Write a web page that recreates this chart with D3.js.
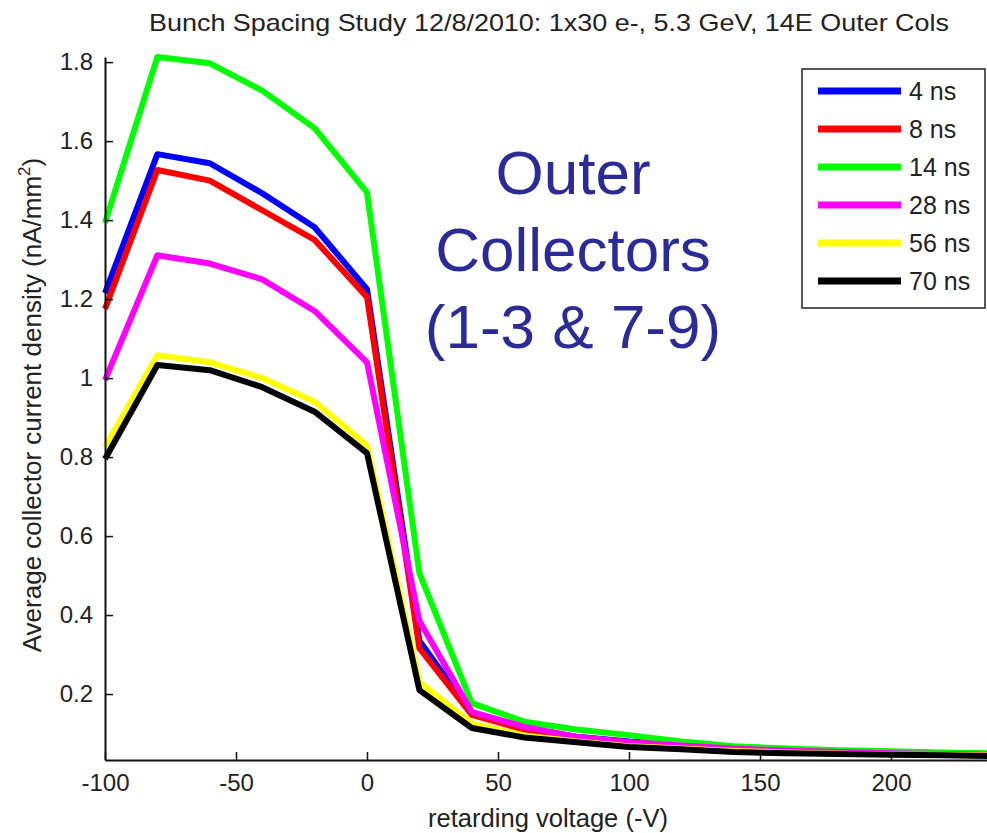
<!DOCTYPE html>
<html lang="en">
<head>
    <meta charset="UTF-8">
    <title>Bunch Spacing Study</title>
    <script src="https://d3js.org/d3.v7.min.js"></script>
    <style>
        body {
            margin: 0;
            background: #fff;
            font-family: "Liberation Sans", Arial, sans-serif;
        }
        svg text {
            fill: #222;
        }
    </style>
</head>
<body>
    <svg id="chart" width="987" height="833"></svg>
    <script>
        // retarding voltage (-V), one point every 20 V
        const voltages = [-100, -80, -60, -40, -20, 0, 20, 40, 60, 80, 100, 120, 140, 160, 180, 200, 220, 240];

        const seriesNames = ["4 ns", "8 ns", "14 ns", "28 ns", "56 ns", "70 ns"];
        const seriesColors = ["#0000ff", "#ff0000", "#00ff00", "#ff00ff", "#ffff00", "#000000"];

        // average collector current density (nA/mm^2)
        const ns4  = [1.215, 1.567, 1.544, 1.468, 1.382, 1.225, 0.335, 0.150, 0.112, 0.092, 0.080, 0.072, 0.063, 0.058, 0.054, 0.051, 0.049, 0.047];
        const ns8  = [1.175, 1.527, 1.500, 1.425, 1.350, 1.205, 0.316, 0.147, 0.110, 0.090, 0.078, 0.070, 0.062, 0.057, 0.053, 0.050, 0.048, 0.046];
        const ns14 = [1.393, 1.813, 1.797, 1.728, 1.633, 1.470, 0.506, 0.177, 0.130, 0.110, 0.096, 0.080, 0.068, 0.062, 0.058, 0.055, 0.052, 0.050];
        const ns28 = [0.995, 1.311, 1.290, 1.250, 1.170, 1.040, 0.385, 0.155, 0.117, 0.092, 0.078, 0.070, 0.062, 0.057, 0.053, 0.050, 0.048, 0.046];
        const ns56 = [0.825, 1.058, 1.040, 1.000, 0.940, 0.830, 0.230, 0.125, 0.095, 0.080, 0.068, 0.062, 0.056, 0.052, 0.049, 0.047, 0.046, 0.044];
        const ns70 = [0.795, 1.033, 1.020, 0.977, 0.915, 0.810, 0.210, 0.114, 0.090, 0.078, 0.066, 0.060, 0.053, 0.050, 0.048, 0.046, 0.045, 0.043];
        const seriesValues = [ns4, ns8, ns14, ns28, ns56, ns70];

        const xTicks = [-100, -50, 0, 50, 100, 150, 200];
        const yTicks = [0.2, 0.4, 0.6, 0.8, 1, 1.2, 1.4, 1.6, 1.8];

        const titleText = "Bunch Spacing Study 12/8/2010: 1x30 e-, 5.3 GeV, 14E Outer Cols";
        const noteLines = ["Outer", "Collectors", "(1-3 & 7-9)"];

        const svg = d3.select("#chart");

        const x = d3.scaleLinear().domain([-100, 250]).range([105, 1022]);
        const y = d3.scaleLinear().domain([0.033, 1.813]).range([760, 57]);

        svg.append("clipPath").attr("id", "plot-clip")
            .append("rect").attr("x", 0).attr("y", 0).attr("width", 987).attr("height", 760);

        // lines
        const line = d3.line()
            .x((d, i) => x(voltages[i]))
            .y(d => y(d));

        svg.append("g")
            .attr("clip-path", "url(#plot-clip)")
            .selectAll("path")
            .data(seriesValues)
            .enter()
            .append("path")
            .attr("d", d => line(d))
            .attr("fill", "none")
            .attr("stroke", (d, i) => seriesColors[i])
            .attr("stroke-width", 6)
            .attr("stroke-linejoin", "round");

        // axes (matlab style: ticks inside, plain hyphen for minus)
        const xAxis = d3.axisBottom(x)
            .tickValues(xTicks)
            .tickFormat(d => String(d))
            .tickSizeInner(-8)
            .tickSizeOuter(0)
            .tickPadding(14);
        const gx = svg.append("g")
            .attr("transform", `translate(0,${y.range()[0]})`)
            .call(xAxis);

        const yAxis = d3.axisLeft(y)
            .tickValues(yTicks)
            .tickFormat(d => String(d))
            .tickSizeInner(-8)
            .tickSizeOuter(0)
            .tickPadding(12);
        const gy = svg.append("g")
            .attr("transform", `translate(${x.range()[0]},0)`)
            .call(yAxis);

        [gx, gy].forEach(g => {
            g.select(".domain").attr("stroke", "#111").attr("stroke-width", 2);
            g.selectAll(".tick line").attr("stroke", "#111").attr("stroke-width", 1.5);
            g.selectAll(".tick text")
                .attr("font-family", "'Liberation Sans', Arial, sans-serif")
                .attr("font-size", 24)
                .attr("fill", "#222");
        });

        // title and labels
        svg.append("text")
            .attr("x", 549)
            .attr("y", 31)
            .attr("text-anchor", "middle")
            .attr("font-size", 24)
            .attr("textLength", 800)
            .attr("lengthAdjust", "spacingAndGlyphs")
            .text(titleText);

        svg.append("text")
            .attr("x", 548)
            .attr("y", 827)
            .attr("text-anchor", "middle")
            .attr("font-size", 25)
            .attr("textLength", 240)
            .attr("lengthAdjust", "spacingAndGlyphs")
            .text("retarding voltage (-V)");

        const ylab = svg.append("text")
            .attr("transform", "translate(41,405) rotate(-90)")
            .attr("text-anchor", "middle")
            .attr("font-size", 26);
        ylab.append("tspan").text("Average collector current density (nA/mm");
        ylab.append("tspan").attr("font-size", 17).attr("dy", -11).text("2");
        ylab.append("tspan").attr("dy", 11).text(")");

        // big annotation
        svg.append("g")
            .selectAll("text")
            .data(noteLines)
            .enter()
            .append("text")
            .attr("x", 573)
            .attr("y", (d, i) => 194 + i * 77)
            .attr("text-anchor", "middle")
            .attr("font-size", 62)
            .style("fill", "#2a2a99")
            .text(d => d);

        // legend
        const legend = svg.append("g").attr("transform", "translate(802,69)");
        legend.append("rect")
            .attr("width", 183)
            .attr("height", 239)
            .attr("fill", "#fff")
            .attr("stroke", "#222")
            .attr("stroke-width", 1.5);

        const item = legend.selectAll(".item")
            .data(seriesNames)
            .enter()
            .append("g")
            .attr("transform", (d, i) => `translate(0,${22 + i * 38})`);

        item.append("line")
            .attr("x1", 16)
            .attr("x2", 99)
            .attr("stroke", (d, i) => seriesColors[i])
            .attr("stroke-width", 7);

        item.append("text")
            .attr("x", 107)
            .attr("dy", "0.36em")
            .attr("font-size", 25)
            .text(d => d);
    </script>
</body>
</html>
